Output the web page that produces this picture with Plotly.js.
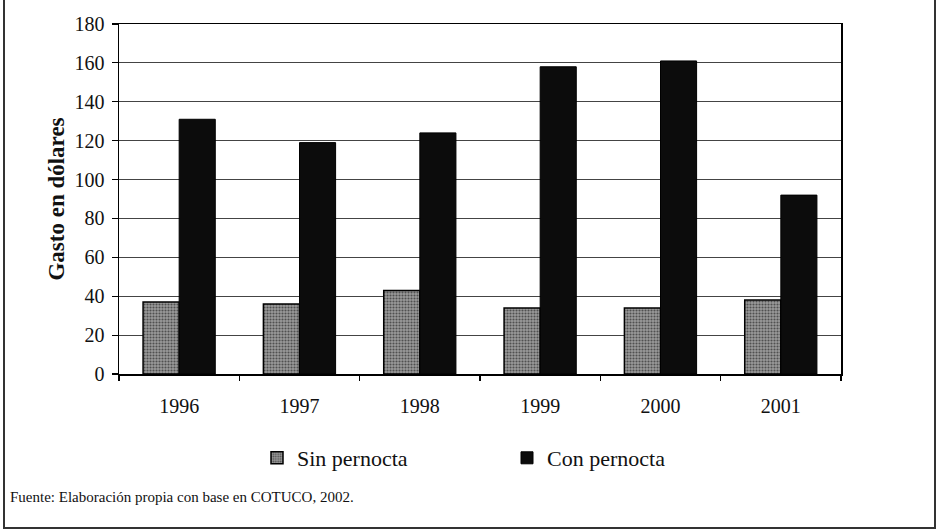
<!DOCTYPE html>
<html>
<head>
<meta charset="utf-8">
<script src="https://cdn.plot.ly/plotly-3.0.1.min.js"></script>
<style>
  html, body { margin: 0; padding: 0; background: #fff; }
  #chart { width: 937px; height: 530px; }
</style>
</head>
<body>
<div id="chart"></div>
<script>
// Gasto medio por visitante (USD), 1996-2001
const years = ['1996', '1997', '1998', '1999', '2000', '2001'];
const sinPernocta = [37, 36, 43, 34, 34, 38];
const conPernocta = [131, 119, 124, 158, 161, 92];
const yTicks = [0, 20, 40, 60, 80, 100, 120, 140, 160, 180];

const W = 937, H = 530;
const M = { l: 119, r: 96, t: 24, b: 156 };
const plotW = W - M.l - M.r, plotH = H - M.t - M.b;
// pixel -> paper helpers for the outer frame and notes
const px = x => (x - M.l) / plotW;
const py = y => (H - M.b - y) / plotH;

const serif = 'Liberation Serif, Times New Roman, serif';

const traces = [
  {
    type: 'bar',
    name: 'Sin pernocta',
    x: years,
    y: sinPernocta,
    marker: {
      color: '#909090',
      line: { color: '#000', width: 1.5 },
      pattern: { shape: '.', fgcolor: '#505050', bgcolor: '#9a9a9a', size: 3, solidity: 0.4 }
    },
    hoverinfo: 'x+y+name'
  },
  {
    type: 'bar',
    name: 'Con pernocta',
    x: years,
    y: conPernocta,
    marker: { color: '#0c0c0c', line: { color: '#000', width: 1 } },
    hoverinfo: 'x+y+name'
  }
];

const layout = {
  width: W,
  height: H,
  margin: M,
  paper_bgcolor: '#fff',
  plot_bgcolor: '#fff',
  font: { family: serif, color: '#111', size: 20 },
  barmode: 'group',
  bargap: 0.4,
  bargroupgap: 0,
  showlegend: true,
  legend: {
    orientation: 'h',
    x: px(257),
    xanchor: 'left',
    y: py(458),
    yanchor: 'middle',
    entrywidth: 205,
    entrywidthmode: 'pixels',
    font: { family: serif, size: 22, color: '#111' },
    bgcolor: 'rgba(0,0,0,0)'
  },
  xaxis: {
    type: 'category',
    tickson: 'boundaries',
    ticks: 'outside',
    ticklen: 5,
    tickcolor: '#000',
    tickwidth: 1.2,
    ticklabelstandoff: 13,
    showline: true,
    linecolor: '#000',
    linewidth: 1.5,
    mirror: true,
    showgrid: false,
    tickfont: { family: serif, size: 20, color: '#111' }
  },
  yaxis: {
    range: [0, 180],
    tickvals: yTicks,
    ticks: 'outside',
    ticklen: 6,
    tickcolor: '#000',
    tickwidth: 1.2,
    ticklabelstandoff: 3,
    showline: true,
    linecolor: '#000',
    linewidth: 1.5,
    mirror: true,
    showgrid: true,
    gridcolor: '#444',
    gridwidth: 1.2,
    zeroline: false,
    tickfont: { family: serif, size: 20, color: '#111' },
    title: {
      text: '<b>Gasto en dólares</b>',
      font: { family: serif, size: 23, color: '#111' },
      standoff: 3
    }
  },
  annotations: [
    {
      xref: 'paper', yref: 'paper',
      x: px(8), y: py(497),
      xanchor: 'left', yanchor: 'middle',
      showarrow: false,
      text: 'Fuente: Elaboración propia con base en COTUCO, 2002.',
      font: { family: serif, size: 15, color: '#111' }
    }
  ],
  shapes: [
    // border around the whole figure
    {
      type: 'rect', xref: 'paper', yref: 'paper',
      x0: px(4), x1: px(935), y0: py(528), y1: py(-4),
      line: { color: '#333', width: 2 },
      fillcolor: 'rgba(0,0,0,0)',
      layer: 'below'
    }
  ]
};

Plotly.newPlot('chart', traces, layout, { displayModeBar: false, staticPlot: true });
</script>
</body>
</html>
